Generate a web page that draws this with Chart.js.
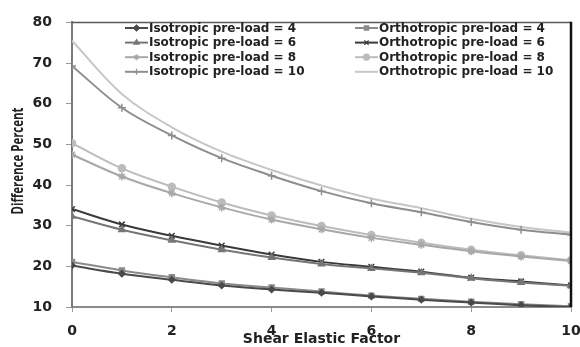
<!DOCTYPE html>
<html>
<head>
<meta charset="utf-8">
<script src="https://cdn.jsdelivr.net/npm/chart.js@4/dist/chart.umd.min.js"></script>
<style>
  html, body { margin: 0; padding: 0; background: #fff; }
  #wrap { width: 580px; height: 347px; position: relative; }
</style>
</head>
<body>
<div id="wrap"><canvas id="myChart"></canvas></div>
<script>
const shearFactor = [0, 1, 2, 3, 4, 5, 6, 7, 8, 9, 10];

const iso4    = [20.2, 18.2, 16.7, 15.3, 14.3, 13.5, 12.6, 11.8, 11.1, 10.4, 10.0];
const ortho4  = [21.1, 19.0, 17.3, 15.8, 14.8, 13.8, 12.8, 12.0, 11.3, 10.7, 10.2];
const iso6    = [32.3, 29.0, 26.4, 24.1, 22.2, 20.6, 19.5, 18.4, 17.1, 16.0, 15.2];
const ortho6  = [34.1, 30.3, 27.5, 25.1, 22.9, 21.1, 19.9, 18.7, 17.2, 16.3, 15.3];
const iso8    = [47.5, 42.1, 38.0, 34.5, 31.5, 29.1, 27.0, 25.3, 23.7, 22.4, 21.3];
const ortho8  = [50.3, 44.1, 39.6, 35.7, 32.5, 29.9, 27.7, 25.8, 24.1, 22.7, 21.5];
const iso10   = [69.3, 59.0, 52.2, 46.6, 42.3, 38.5, 35.5, 33.3, 30.9, 29.0, 27.8];
const ortho10 = [75.5, 62.4, 54.2, 48.2, 43.7, 39.9, 36.7, 34.3, 31.7, 29.7, 28.3];

const seriesNames = [
  'Isotropic pre-load = 4', 'Orthotropic pre-load = 4',
  'Isotropic pre-load = 6', 'Orthotropic pre-load = 6',
  'Isotropic pre-load = 8', 'Orthotropic pre-load = 8',
  'Isotropic pre-load = 10', 'Orthotropic pre-load = 10'
];
const seriesValues = [iso4, ortho4, iso6, ortho6, iso8, ortho8, iso10, ortho10];
const seriesColors = ['#4a4a4a', '#8a8a8a', '#767676', '#3a3a3a', '#a8a8a8', '#bcbcbc', '#8e8e8e', '#c6c6c6'];
const seriesMarkers = ['rectRot', 'rect', 'triangle', 'crossRot', 'star', 'circle', 'cross', false];
const markerSizes = [3, 3.5, 3.5, 4, 4, 3.5, 4, 0];

const yTicks = [10, 20, 30, 40, 50, 60, 70, 80];
const xTicks = [0, 2, 4, 6, 8, 10];

const tickFont = { family: 'DejaVu Sans', weight: 'bold', size: 14 };

const datasets = seriesNames.map((name, i) => ({
  label: name,
  data: shearFactor.map((x, k) => ({ x: x, y: seriesValues[i][k] })),
  borderColor: seriesColors[i],
  backgroundColor: seriesColors[i],
  borderWidth: 2,
  pointStyle: seriesMarkers[i],
  pointRadius: markerSizes[i],
  pointBorderWidth: 1.5,
  tension: 0.35,
  fill: false
}));

// legend drawn inside the plot, two columns of four
const insideLegend = {
  id: 'insideLegend',
  afterDraw(chart) {
    const ctx = chart.ctx;
    ctx.save();
    ctx.font = 'bold 12px "DejaVu Sans"';
    ctx.textBaseline = 'middle';
    ctx.textAlign = 'left';
    chart.data.datasets.forEach((ds, i) => {
      const col = i % 2, row = Math.floor(i / 2);
      const x0 = col === 0 ? 125 : 355;
      const y = 28 + row * 14.6;
      ctx.strokeStyle = ds.borderColor;
      ctx.fillStyle = ds.borderColor;
      ctx.lineWidth = 2;
      ctx.beginPath();
      ctx.moveTo(x0, y);
      ctx.lineTo(x0 + 23, y);
      ctx.stroke();
      if (ds.pointStyle) {
        ctx.lineWidth = 1.2;
        Chart.helpers.drawPoint(ctx, {
          pointStyle: ds.pointStyle, radius: 3, rotation: 0, borderWidth: 1.2
        }, x0 + 11.5, y);
      }
      ctx.fillStyle = '#222';
      ctx.fillText(ds.label, x0 + 24, y + 0.5);
    });
    ctx.restore();
  }
};

// top and right edges of the plot frame, plus the condensed y title
const plotFrame = {
  id: 'plotFrame',
  afterDatasetsDraw(chart) {
    const { ctx, chartArea: a } = chart;
    ctx.save();
    ctx.strokeStyle = '#5a5a5a';
    ctx.lineWidth = 1.5;
    ctx.beginPath();
    ctx.moveTo(a.left, a.top);
    ctx.lineTo(a.right, a.top);
    ctx.stroke();
    ctx.strokeStyle = '#111';
    ctx.lineWidth = 2.5;
    ctx.beginPath();
    ctx.moveTo(a.right, a.top - 0.7);
    ctx.lineTo(a.right, a.bottom);
    ctx.stroke();
    ctx.restore();
  },
  afterDraw(chart) {
    const ctx = chart.ctx;
    const text = 'Difference Percent';
    ctx.save();
    ctx.font = 'bold 16px "Open Sans"';
    ctx.fillStyle = '#222';
    ctx.textAlign = 'center';
    ctx.textBaseline = 'middle';
    const w = ctx.measureText(text).width;
    ctx.translate(18, 161);
    ctx.rotate(-Math.PI / 2);
    ctx.scale(107 / w, 1);
    ctx.fillText(text, 0, 0);
    ctx.restore();
  }
};

const config = {
  type: 'line',
  data: { datasets: datasets },
  options: {
    responsive: true,
    maintainAspectRatio: false,
    animation: false,
    layout: { padding: { top: 16, right: 9, left: 0, bottom: 0 } },
    plugins: {
      legend: { display: false },
      tooltip: { enabled: false }
    },
    scales: {
      x: {
        type: 'linear',
        min: 0,
        max: 10,
        afterBuildTicks: s => { s.ticks = xTicks.map(v => ({ value: v })); },
        afterFit: s => { s.height = 40; s.paddingLeft = 0; s.paddingRight = 0; },
        grid: { drawOnChartArea: false, drawTicks: true, tickLength: 5, color: '#9a9a9a' },
        border: { color: '#8a8a8a', width: 2 },
        ticks: { color: '#222', font: tickFont, padding: 11, maxRotation: 0 },
        title: {
          display: true,
          text: 'Shear Elastic Factor',
          color: '#222',
          font: { family: 'DejaVu Sans', weight: 'bold', size: 14 },
          padding: { top: 0, bottom: -1 }
        }
      },
      y: {
        min: 10,
        max: 80,
        afterBuildTicks: s => { s.ticks = yTicks.map(v => ({ value: v })); },
        afterFit: s => { s.width = 72; },
        grid: { drawOnChartArea: false, drawTicks: true, tickLength: 6, color: '#9a9a9a' },
        border: { color: '#7a7a7a', width: 2 },
        ticks: { color: '#222', font: tickFont, padding: 14 }
      }
    }
  },
  plugins: [insideLegend, plotFrame]
};

var myChart = new Chart(document.getElementById('myChart'), config);
</script>
</body>
</html>
